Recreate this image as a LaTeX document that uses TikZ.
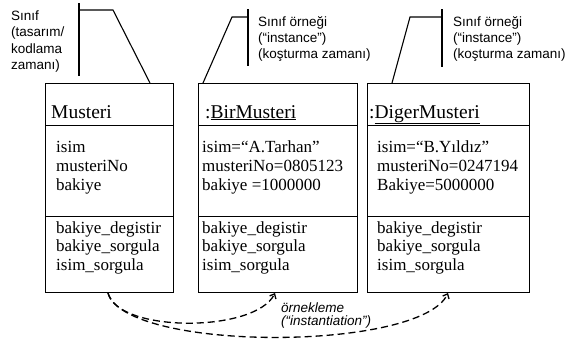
\documentclass[tikz,border=0pt]{standalone}
\usepackage{fontspec}
\setmainfont{Liberation Serif}
\setsansfont{Liberation Sans}
\usetikzlibrary{arrows.meta}
\begin{document}
\begin{tikzpicture}[x=1pt,y=-1pt,
  box/.style={draw, line width=0.8pt, inner sep=0pt, anchor=north west},
  sep/.style={line width=0.8pt},
  nm/.style={anchor=base west, inner sep=0pt, font=\fontsize{19.5}{22}\selectfont},
  tx/.style={anchor=base west, inner sep=0pt, font=\fontsize{17}{19}\selectfont},
  lb/.style={anchor=base west, inner sep=0pt, font=\sffamily\fontsize{13.5}{16}\selectfont},
  il/.style={anchor=base west, inner sep=0pt, font=\sffamily\itshape\fontsize{13.5}{16}\selectfont},
  callout/.style={line width=1.1pt},
  inst/.style={line width=1.3pt, dash pattern=on 7pt off 4pt, -{Straight Barb[length=4pt,width=7pt]}}
]
\useasboundingbox (0,0) rectangle (567,338);

% boxes
\node[box, minimum width=128pt, minimum height=209pt] (b1) at (45,83) {};
\node[box, minimum width=159pt, minimum height=209pt] (b2) at (198,83) {};
\node[box, minimum width=162pt, minimum height=209pt] (b3) at (367,83) {};

\coordinate (d1) at (0,125);
\coordinate (d2) at (0,216);
\foreach \b in {b1,b2,b3}{
  \draw[sep] (\b.west |- d1) -- (\b.east |- d1);
  \draw[sep] (\b.west |- d2) -- (\b.east |- d2);
}

% box 1
\node[nm] (n1) at (51,118) {Musteri};
\node[tx] (a11) at (56,152) {isim};
\node[tx] (a12) at (56,171) {musteriNo};
\node[tx] (a13) at (56,190) {bakiye};
\node[tx] (o11) at (56,233) {bakiye\_degistir};
\node[tx] (o12) at (56,251.5) {bakiye\_sorgula};
\node[tx] (o13) at (56,270) {isim\_sorgula};

% box 2
\node[nm] (n2) at (205,118) {:\underline{BirMusteri}};
\node[tx] (a21) at (202,152) {isim=“A.Tarhan”};
\node[tx] (a22) at (202,171) {musteriNo=0805123};
\node[tx] (a23) at (202,190) {bakiye =1000000};
\node[tx] (o21) at (202,233) {bakiye\_degistir};
\node[tx] (o22) at (202,251.5) {bakiye\_sorgula};
\node[tx] (o23) at (202,270) {isim\_sorgula};

% box 3
\node[nm] (n3) at (369,118) {:\underline{DigerMusteri}};
\node[tx] (a31) at (377,152) {isim=“B.Yıldız”};
\node[tx] (a32) at (377,171) {musteriNo=0247194};
\node[tx] (a33) at (377,190) {Bakiye=5000000};
\node[tx] (o31) at (377,233) {bakiye\_degistir};
\node[tx] (o32) at (377,251.5) {bakiye\_sorgula};
\node[tx] (o33) at (377,270) {isim\_sorgula};

% callout 1
\node[lb] (l11) at (11,20) {Sınıf};
\node[lb] (l12) at (11,36.5) {(tasarım/};
\node[lb] (l13) at (11,53) {kodlama};
\node[lb] (l14) at (11,69) {zamanı)};
\coordinate (v1a) at (79,3);
\coordinate (v1b) at (79,76);
\coordinate (h1a) at (79,10);
\coordinate (h1b) at (113,10);
\coordinate (k1) at (150,83);
\draw[callout] (v1a) -- (v1b);
\draw[callout] (h1a) -- (h1b) -- (k1);

% callout 2
\node[lb] (l21) at (258,26) {Sınıf örneği};
\node[lb] (l22) at (258,42) {(“instance”)};
\node[lb] (l23) at (258,58) {(koşturma zamanı)};
\coordinate (v2a) at (248,9);
\coordinate (v2b) at (248,66);
\coordinate (h2a) at (248,17);
\coordinate (h2b) at (232,17);
\coordinate (k2) at (203,83);
\draw[callout] (v2a) -- (v2b);
\draw[callout] (h2a) -- (h2b) -- (k2);

% callout 3
\node[lb] (l31) at (453,26) {Sınıf örneği};
\node[lb] (l32) at (453,42) {(“instance”)};
\node[lb] (l33) at (453,58) {(koşturma zamanı)};
\coordinate (v3a) at (442,9);
\coordinate (v3b) at (442,67);
\coordinate (h3a) at (442,17);
\coordinate (h3b) at (410,17);
\coordinate (k3) at (392,83);
\draw[callout] (v3a) -- (v3b);
\draw[callout] (h3a) -- (h3b) -- (k3);

% instantiation
\coordinate (s1) at (108,293);
\coordinate (t2) at (275,293);
\coordinate (t3) at (448,293);
\draw[inst] (s1) .. controls (118,333) and (255,333) .. (t2);
\draw[inst] (s1) .. controls (125,352) and (420,352) .. (t3);
\node[il] (i1) at (281,312) {örnekleme};
\node[il] (i2) at (281,325) {(“instantiation”)};
\end{tikzpicture}
\end{document}
